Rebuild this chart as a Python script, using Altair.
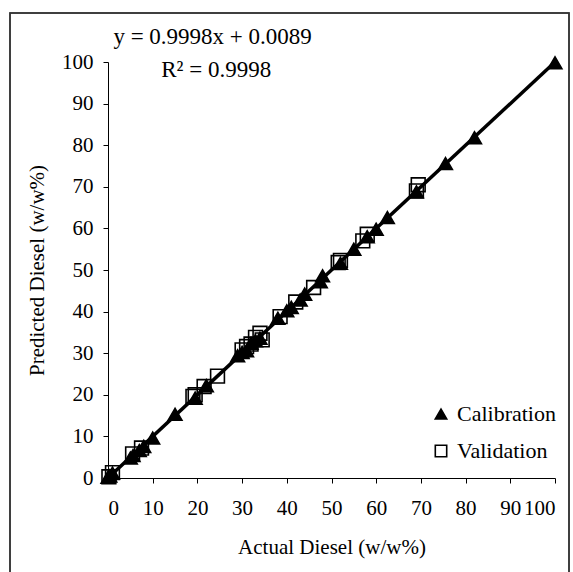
import altair as alt
import pandas as pd

calib_actual = [0, 0.4, 1.0, 5.0, 5.6, 7.0, 8.0, 10.0, 15.0, 19.5, 22.0, 29.0, 30.0, 31.0, 32.0, 33.0, 34.0, 38.0, 40.0, 41.0, 43.0, 44.0, 47.5, 48.0, 52.0, 55.0, 58.0, 60.0, 62.5, 69.0, 75.5, 82.0, 100.0]
calib_pred = [0.2, 0.5, 1.2, 4.8, 5.4, 6.6, 7.6, 9.6, 15.3, 19.2, 22.2, 29.4, 30.2, 30.6, 32.4, 33.0, 33.6, 38.4, 40.2, 41.0, 42.8, 44.2, 47.2, 48.6, 51.6, 55.0, 58.0, 59.8, 62.6, 68.8, 75.6, 81.8, 99.8]
valid_actual = [0.2, 1.0, 5.5, 7.5, 19.0, 19.5, 21.5, 24.5, 30.0, 31.0, 32.0, 33.0, 34.0, 34.5, 38.5, 42.0, 46.0, 51.5, 52.0, 57.0, 58.0, 69.0, 69.4]
valid_pred = [0.3, 1.3, 5.8, 7.2, 19.6, 20.0, 22.0, 24.5, 30.8, 31.6, 32.2, 33.8, 34.8, 33.2, 38.8, 42.3, 45.8, 51.8, 52.3, 57.0, 58.6, 69.0, 70.5]
series_names = ["Calibration", "Validation"]
fit_x = [0, 100]
slope, intercept = 0.9998, 0.0089
eq_text = ["y = 0.9998x + 0.0089", "R\u00b2 = 0.9998"]
eq_pos_x = [23.4, 24.2]
eq_pos_y = [106.0, 98.0]

FONT = "Liberation Serif"

pts = pd.DataFrame({
    "actual": calib_actual + valid_actual,
    "pred": calib_pred + valid_pred,
    "series": [series_names[0]] * len(calib_actual) + [series_names[1]] * len(valid_actual),
})
fit = pd.DataFrame({"actual": fit_x, "pred": [slope * v + intercept for v in fit_x]})
eq = pd.DataFrame({"actual": eq_pos_x, "pred": eq_pos_y, "t": eq_text})

xs = alt.Scale(domain=[0, 100], nice=False)
ys = alt.Scale(domain=[0, 100], nice=False)

xaxis = alt.Axis(title="Actual Diesel (w/w%)", values=list(range(0, 101, 10)), grid=False,
                 labelPadding=14, titlePadding=18)
yaxis = alt.Axis(title="Predicted Diesel (w/w%)", values=list(range(0, 101, 10)), grid=False,
                 labelPadding=10, titlePadding=14)

leg = alt.Legend(title=None, orient="none", legendX=322, legendY=341,
                 labelFont=FONT, labelFontSize=22, labelColor="black",
                 symbolSize=130, symbolStrokeWidth=1.6, rowPadding=15,
                 labelOffset=5)

points = alt.Chart(pts).mark_point(strokeWidth=1.6, opacity=1).encode(
    x=alt.X("actual:Q", scale=xs, axis=xaxis),
    y=alt.Y("pred:Q", scale=ys, axis=yaxis),
    shape=alt.Shape("series:N", scale=alt.Scale(domain=series_names, range=["triangle-up", "square"]),
                    legend=leg),
    fill=alt.Fill("series:N", scale=alt.Scale(domain=series_names, range=["black", "transparent"]),
                  legend=leg),
    stroke=alt.value("black"),
    size=alt.value(190),
)

line = alt.Chart(fit).mark_line(color="black", strokeWidth=3.5).encode(
    x=alt.X("actual:Q", scale=xs), y=alt.Y("pred:Q", scale=ys)
)

texts = alt.Chart(eq).mark_text(font=FONT, fontSize=23, color="black").encode(
    x=alt.X("actual:Q", scale=xs), y=alt.Y("pred:Q", scale=ys), text="t:N"
)

frame = alt.Chart(eq).mark_rect(fill=None, stroke="#333", strokeWidth=1.5).encode(
    x=alt.value(-98), x2=alt.value(461), y=alt.value(-49), y2=alt.value(520)
)

chart = alt.layer(frame, points, line, texts).properties(
    width=447, height=416,
    autosize=alt.AutoSizeParams(type="none"),
    padding={"left": 108, "top": 62, "right": 18, "bottom": 94},
).configure_view(stroke=None).configure_axis(
    domainColor="black", tickColor="black", tickSize=5, domainWidth=1, tickWidth=1,
    labelFont=FONT, labelFontSize=21, labelColor="black",
    titleFont=FONT, titleFontSize=21, titleColor="black", titleFontWeight="normal",
)

chart.save("out.html", embed_options={"renderer": "svg", "actions": False})
